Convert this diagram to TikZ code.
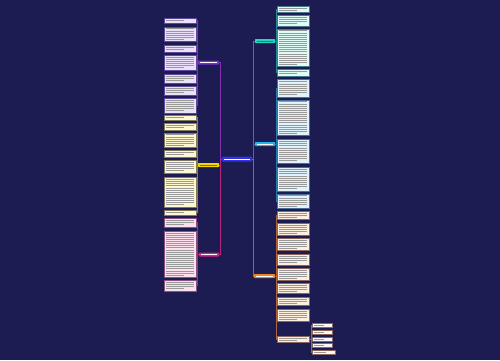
\documentclass[tikz,border=0pt]{standalone}
\definecolor{bg}{RGB}{28,27,82}
\definecolor{cen}{RGB}{52,52,222}
\definecolor{pB}{RGB}{124,42,222}\definecolor{pF}{RGB}{234,224,250}\definecolor{pD}{RGB}{95,70,160}\definecolor{pL}{RGB}{130,50,175}
\definecolor{yB}{RGB}{242,212,0}\definecolor{yF}{RGB}{253,248,208}\definecolor{yD}{RGB}{130,120,90}\definecolor{yL}{RGB}{160,120,60}
\definecolor{kB}{RGB}{222,30,130}\definecolor{kF}{RGB}{252,224,237}\definecolor{kD}{RGB}{140,80,130}\definecolor{kL}{RGB}{180,40,120}
\definecolor{tB}{RGB}{32,212,192}\definecolor{tF}{RGB}{224,250,246}\definecolor{tD}{RGB}{70,120,140}\definecolor{tL}{RGB}{40,135,150}
\definecolor{cB}{RGB}{32,182,232}\definecolor{cF}{RGB}{224,243,252}\definecolor{cD}{RGB}{70,110,150}\definecolor{cL}{RGB}{40,120,170}
\definecolor{oB}{RGB}{236,132,32}\definecolor{oF}{RGB}{253,239,224}\definecolor{oD}{RGB}{140,100,90}\definecolor{oL}{RGB}{175,100,55}
\definecolor{sF}{RGB}{252,248,244}
\tikzset{
  leafbox/.style={rectangle,inner sep=0pt,outer sep=0pt,line width=0.6pt,anchor=north west},
  branchbox/.style={rectangle,rounded corners=0.6pt,inner sep=0pt,outer sep=0pt,anchor=north west},
  txtline/.style={line width=0.6pt,black!40},
  conn/.style={line width=0.6pt}
}
% leaf: name, x1, y1, x2, y2, fill, draw
\newcommand\leafnode[7]{%
  \node[leafbox,fill=#6,draw=#7,minimum width={#4-#2},minimum height={#5-#3}] (#1) at (#2,#3) {};
  \pgfmathtruncatemacro\nlines{max(1,floor((#5-#3-1.2)/2.1))}%
  \pgfmathsetmacro\ystart{#3+((#5-#3)-\nlines*2.1)/2+1.05}%
  \foreach \i in {1,...,\nlines}{%
    \pgfmathsetmacro\yy{\ystart+(\i-1)*2.1}%
    \pgfmathsetmacro\xe{\i==\nlines ? (#2+0.62*(#4-#2)) : (#4-1.6)}%
    \draw[txtline] (#2+1.6,\yy) -- (\xe,\yy);
  }%
}
% branch: name, x1, y1, x2, y2, fill, text colour
\newcommand\branchnode[7]{%
  \node[branchbox,fill=#6,minimum width={#4-#2},minimum height={#5-#3}] (#1) at (#2,#3) {};
  \draw[line width=0.8pt,#7] (#2+2,{(#3+#5)/2}) -- (#4-2,{(#3+#5)/2});
}
\begin{document}
\begin{tikzpicture}[x=1pt,y=-1pt]
\fill[bg] (0,0) rectangle (500,360);
\useasboundingbox (0,0) rectangle (500,360);

% central node
\branchnode{c}{222}{156.5}{252}{161.5}{cen}{white!90}

% branches
\branchnode{pb}{198}{60.5}{219}{64.5}{pB}{white!90}
\branchnode{yb}{198}{163}{219}{167}{yB}{black!60}
\branchnode{kb}{199}{252.5}{219}{256.5}{kB}{white!90}
\branchnode{tb}{255}{39}{275}{43}{tB}{black!60}
\branchnode{cb}{255}{142}{275}{146}{cB}{white!90}
\branchnode{ob}{254}{274}{275}{278}{oB}{white!90}

% centre connectors
\draw[conn,pL] (c.west) -| ([xshift=1.5pt]pb.east) -- (pb.east);
\draw[conn,yL] (c.west) -| ([xshift=1.5pt]yb.east) -- (yb.east);
\draw[conn,kL] (c.west) -| ([xshift=1.5pt]kb.east) -- (kb.east);
\draw[conn,tL] (c.east) -| ([xshift=-2pt]tb.west) -- (tb.west);
\draw[conn,cL] (c.east) -| ([xshift=-2pt]cb.west) -- (cb.west);
\draw[conn,oL] (c.east) -| ([xshift=-1pt]ob.west) -- (ob.west);

% left purple leaves
\leafnode{p1}{164}{18}{196}{23}{pF}{pD}
\leafnode{p2}{164}{27}{196}{41}{pF}{pD}
\leafnode{p3}{164}{45}{196}{52}{pF}{pD}
\leafnode{p4}{164}{55}{196}{70}{pF}{pD}
\leafnode{p5}{164}{74}{196}{83}{pF}{pD}
\leafnode{p6}{164}{86}{196}{95}{pF}{pD}
\leafnode{p7}{164}{98}{196}{113}{pF}{pD}
\foreach \n in {p1,p2,p3,p4,p5,p6,p7}
  \draw[conn,pL,line width=0.4pt] (pb.west) -| ([xshift=1pt]\n.east) -- (\n.east);

% left yellow leaves
\leafnode{y1}{164}{115}{196}{120}{yF}{yD}
\leafnode{y2}{164}{123}{196}{130}{yF}{yD}
\leafnode{y3}{164}{133}{196}{147}{yF}{yD}
\leafnode{y4}{164}{150}{196}{157}{yF}{yD}
\leafnode{y5}{164}{160}{196}{173}{yF}{yD}
\leafnode{y6}{164}{177}{196}{207}{yF}{yD}
\leafnode{y7}{164}{210}{196}{215}{yF}{yD}
\foreach \n in {y1,y2,y3,y4,y5,y6,y7}
  \draw[conn,yL,line width=0.4pt] (yb.west) -| ([xshift=1pt]\n.east) -- (\n.east);

% left pink leaves
\leafnode{k1}{164}{218}{196}{227}{kF}{kD}
\leafnode{k2}{164}{231}{196}{277}{kF}{kD}
\leafnode{k3}{164}{280}{196}{291}{kF}{kD}
\foreach \n in {k1,k2,k3}
  \draw[conn,kL,line width=0.4pt] (kb.west) -| ([xshift=1.5pt]\n.east) -- (\n.east);

% right teal leaves
\leafnode{t1}{277}{6}{309}{12}{tF}{tD}
\leafnode{t2}{277}{15}{309}{26}{tF}{tD}
\leafnode{t3}{277}{29}{309}{66}{tF}{tD}
\leafnode{t4}{277}{69}{309}{76}{tF}{tD}
\foreach \n in {t1,t2,t3,t4}
  \draw[conn,tL,line width=0.4pt] (tb.east) -| ([xshift=-1pt]\n.west) -- (\n.west);

% right cyan leaves
\leafnode{c1}{277}{79}{309}{97}{cF}{cD}
\leafnode{c2}{277}{100}{309}{135}{cF}{cD}
\leafnode{c3}{277}{139}{309}{163}{cF}{cD}
\leafnode{c4}{277}{167}{309}{191}{cF}{cD}
\leafnode{c5}{277}{194}{309}{208}{cF}{cD}
\foreach \n in {c1,c2,c3,c4,c5}
  \draw[conn,cL,line width=0.4pt] (cb.east) -| ([xshift=-1pt]\n.west) -- (\n.west);

% right orange leaves
\leafnode{o1}{277}{211}{309}{219}{oF}{oD}
\leafnode{o2}{277}{223}{309}{235}{oF}{oD}
\leafnode{o3}{277}{238}{309}{250}{oF}{oD}
\leafnode{o4}{277}{254}{309}{265}{oF}{oD}
\leafnode{o5}{277}{268}{309}{280}{oF}{oD}
\leafnode{o6}{277}{283}{309}{293}{oF}{oD}
\leafnode{o7}{277}{297}{309}{305}{oF}{oD}
\leafnode{o8}{277}{309}{309}{321}{oF}{oD}
\leafnode{o9}{277}{336}{309}{342}{oF}{oD}
\foreach \n in {o1,o2,o3,o4,o5,o6,o7,o8,o9}
  \draw[conn,oL,line width=0.4pt] (ob.east) -| ([xshift=-1pt]\n.west) -- (\n.west);

% small leaves of o9
\leafnode{s1}{312}{323}{332}{327}{sF}{oD}
\leafnode{s2}{312}{330}{332}{334}{sF}{oD}
\leafnode{s3}{312}{337}{332}{341}{sF}{oD}
\leafnode{s4}{312}{343.5}{332}{347.5}{sF}{oD}
\leafnode{s5}{312}{350}{335}{354}{sF}{oD}
\foreach \n in {s1,s2,s3,s4,s5}
  \draw[conn,oL,line width=0.4pt] (o9.east) -| ([xshift=-1.2pt]\n.west) -- (\n.west);
\end{tikzpicture}
\end{document}
